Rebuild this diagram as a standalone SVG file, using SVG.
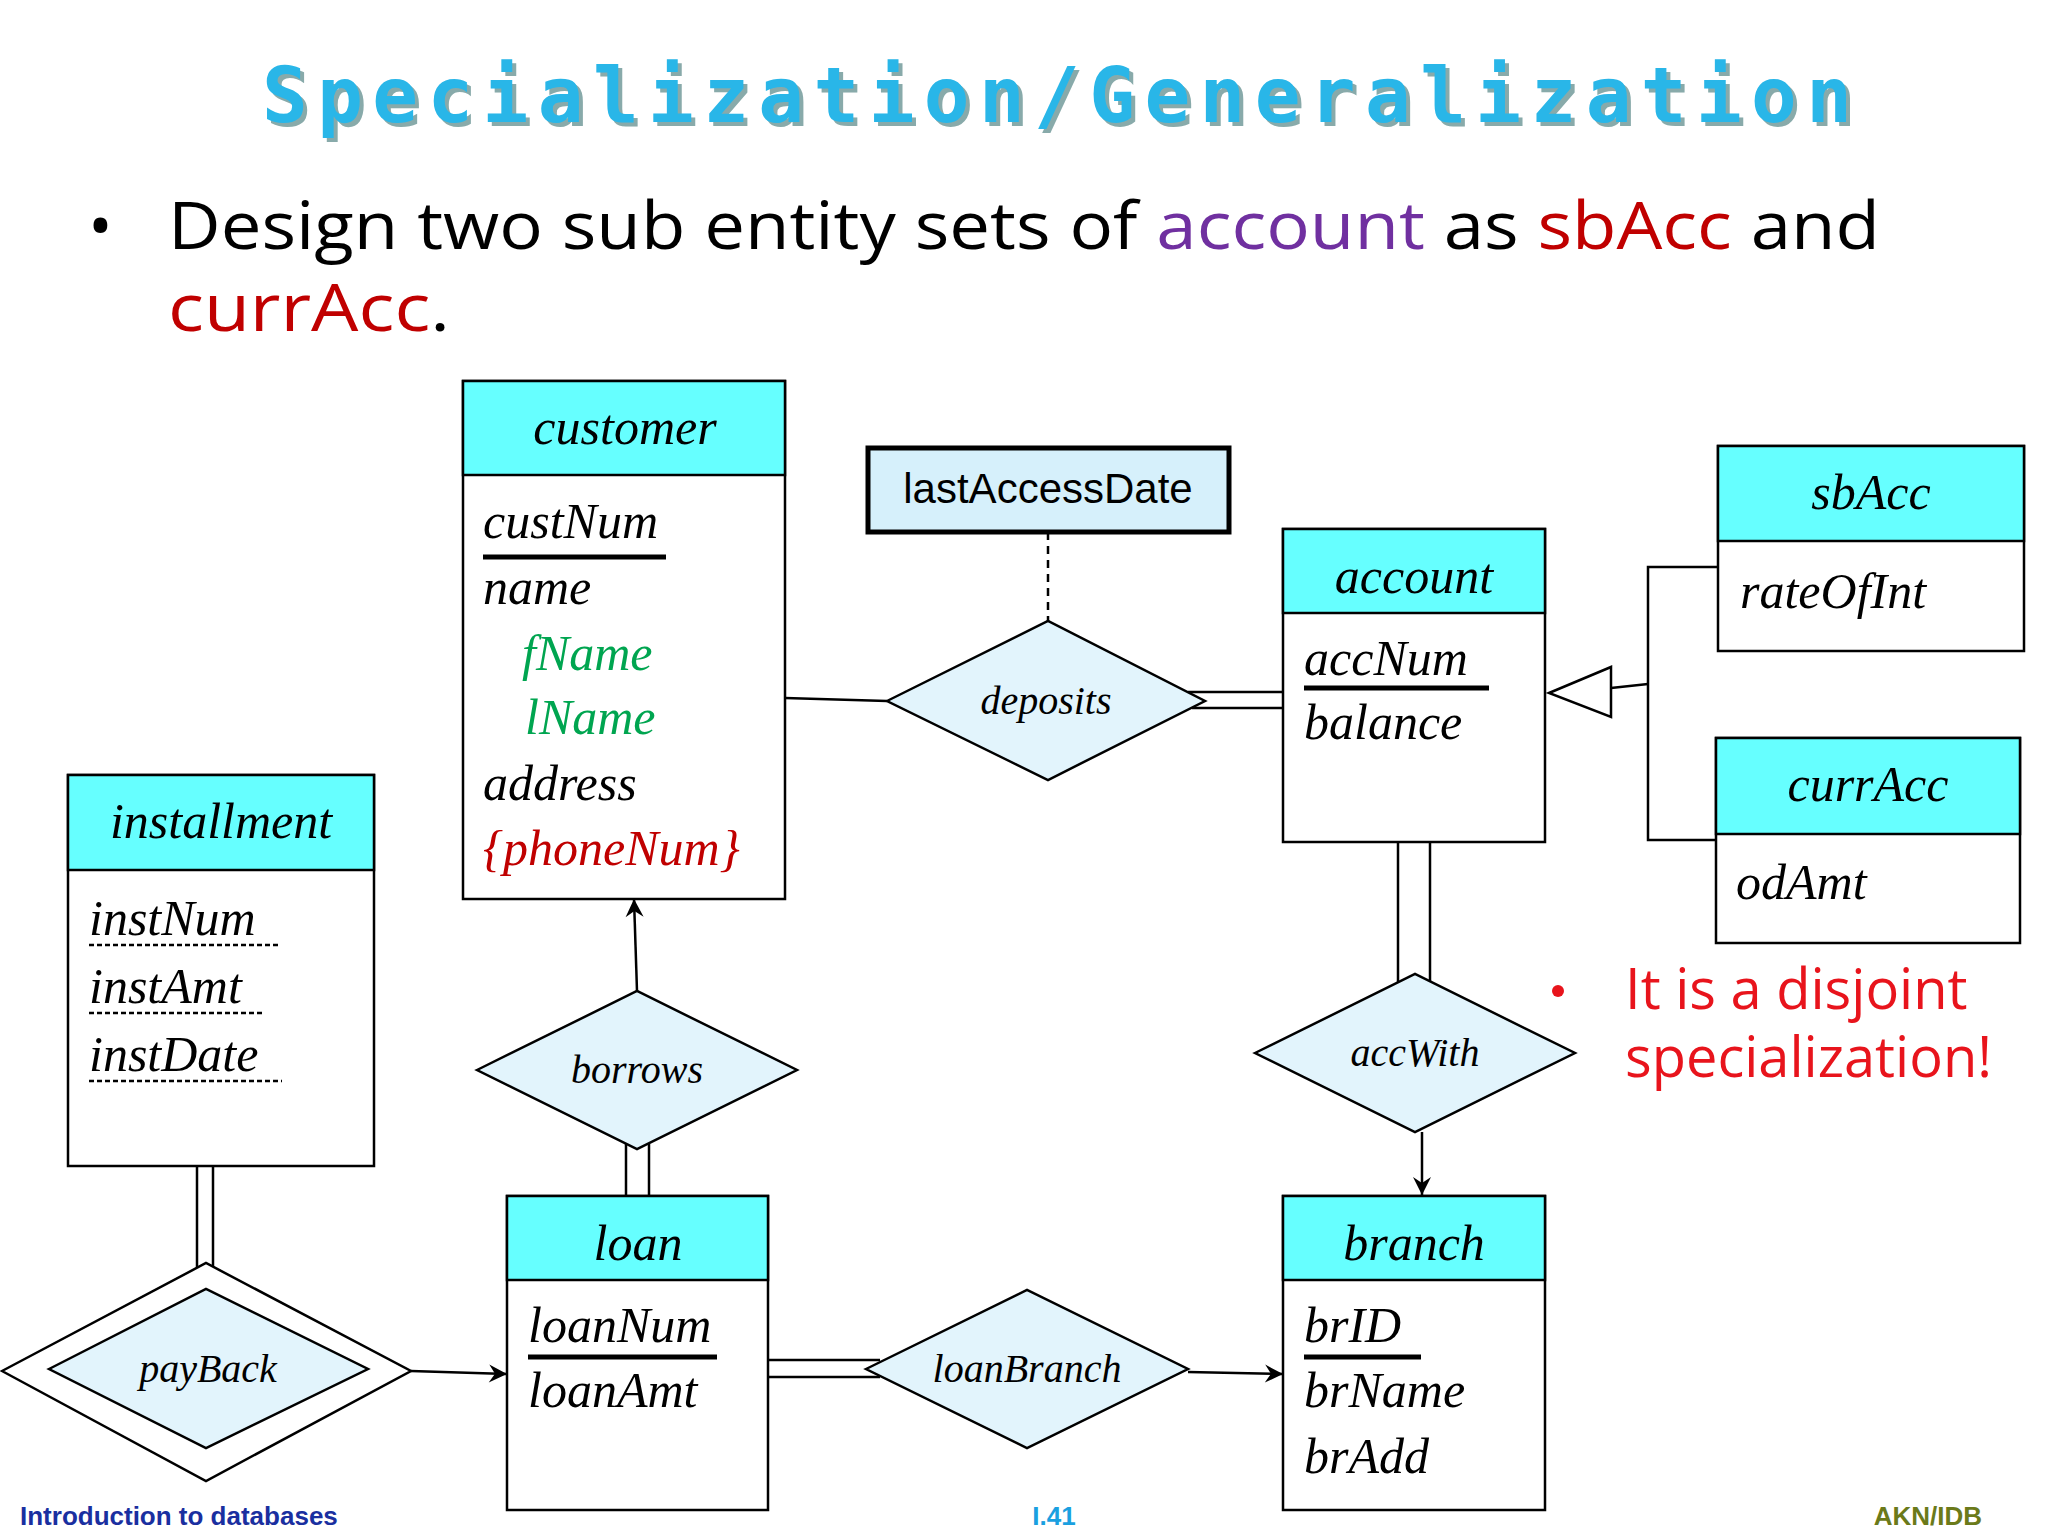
<svg xmlns="http://www.w3.org/2000/svg" width="2048" height="1536" viewBox="0 0 2048 1536">
<style>
.box{fill:#fff;stroke:#000;stroke-width:2.5}
.hdr{fill:#66ffff;stroke:#000;stroke-width:2.5}
.dia{fill:#e2f4fc;stroke:#000;stroke-width:2.5}
.t{font-family:"Liberation Serif",serif;font-style:italic;font-size:50px}
.dt{font-family:"Liberation Serif",serif;font-style:italic;font-size:40px}
.ln{stroke:#000;stroke-width:2.5;fill:none}
.big{font-family:"Open Sans","DejaVu Sans",sans-serif;font-size:66px}
.green{fill:#00a550}
.red{fill:#c00000}
</style>
<defs>
<marker id="ar" markerWidth="24" markerHeight="24" refX="20" refY="12" orient="auto" markerUnits="userSpaceOnUse">
<path d="M2,3 L20,12 L2,21 L8,12 Z" fill="#000"/>
</marker>
</defs>
<rect width="2048" height="1536" fill="#fff"/>
<text x="266" y="126" textLength="1590" lengthAdjust="spacing" font-family="DejaVu Sans Mono,monospace" font-weight="bold" font-size="76" fill="#8aa">Specialization/Generalization</text>
<text x="262" y="122" textLength="1590" lengthAdjust="spacing" font-family="DejaVu Sans Mono,monospace" font-weight="bold" font-size="76" fill="#29b6e8">Specialization/Generalization</text>
<text x="88" y="249" class="big">•</text>
<text x="168" y="249" class="big" textLength="1712" lengthAdjust="spacingAndGlyphs">Design two sub entity sets of <tspan fill="#7030a0">account</tspan> as <tspan fill="#c00000">sbAcc</tspan> and</text>
<text x="168" y="331" class="big" textLength="282" lengthAdjust="spacingAndGlyphs"><tspan fill="#c00000">currAcc</tspan>.</text>

<g id="connectors">
<line class="ln" x1="1048" y1="532" x2="1048" y2="621" stroke-dasharray="8,6"/>
<line class="ln" x1="785" y1="698" x2="887" y2="701"/>
<line class="ln" x1="1188" y1="692" x2="1283" y2="692"/>
<line class="ln" x1="1192" y1="708" x2="1283" y2="708"/>
<polygon points="1549,693 1611,667 1611,717" fill="#fff" stroke="#000" stroke-width="2.5"/>
<line class="ln" x1="1611" y1="688" x2="1648" y2="684"/>
<polyline class="ln" points="1718,567 1648,567 1648,840 1716,840"/>
<line class="ln" x1="1398" y1="842" x2="1398" y2="983"/>
<line class="ln" x1="1430" y1="842" x2="1430" y2="990"/>
<line class="ln" x1="1422" y1="1132" x2="1422" y2="1195" marker-end="url(#ar)"/>
<line class="ln" x1="768" y1="1360" x2="880" y2="1360"/>
<line class="ln" x1="768" y1="1377" x2="880" y2="1377"/>
<line class="ln" x1="1188" y1="1372" x2="1283" y2="1374" marker-end="url(#ar)"/>
<line class="ln" x1="637" y1="991" x2="634" y2="899" marker-end="url(#ar)"/>
<line class="ln" x1="626" y1="1144" x2="626" y2="1196"/>
<line class="ln" x1="649" y1="1144" x2="649" y2="1196"/>
<line class="ln" x1="197" y1="1166" x2="197" y2="1268"/>
<line class="ln" x1="213" y1="1166" x2="213" y2="1268"/>
<line class="ln" x1="411" y1="1371" x2="507" y2="1374" marker-end="url(#ar)"/>
</g>

<g id="customer">
<rect class="box" x="463" y="381" width="322" height="518"/>
<rect class="hdr" x="463" y="381" width="322" height="94"/>
<text class="t" x="625" y="444" text-anchor="middle">customer</text>
<text class="t" x="483" y="538">custNum</text>
<line x1="483" y1="557" x2="666" y2="557" stroke="#000" stroke-width="5"/>
<text class="t" x="483" y="604">name</text>
<text class="t green" x="522" y="670">fName</text>
<text class="t green" x="525" y="734">lName</text>
<text class="t" x="483" y="800">address</text>
<text class="t red" x="483" y="865">{phoneNum}</text>
</g>

<g id="lastAccessDate">
<rect x="868" y="448" width="361" height="84" fill="#d6f0fb" stroke="#000" stroke-width="5"/>
<text x="1048" y="503" text-anchor="middle" font-family="Liberation Sans,sans-serif" font-size="42">lastAccessDate</text>
</g>

<g id="deposits">
<polygon class="dia" points="887,701 1048,621 1205,701 1048,780"/>
<text class="dt" x="1046" y="714" text-anchor="middle">deposits</text>
</g>

<g id="account">
<rect class="box" x="1283" y="529" width="262" height="313"/>
<rect class="hdr" x="1283" y="529" width="262" height="84"/>
<text class="t" x="1414" y="593" text-anchor="middle">account</text>
<text class="t" x="1304" y="675">accNum</text>
<line x1="1304" y1="688" x2="1489" y2="688" stroke="#000" stroke-width="5"/>
<text class="t" x="1304" y="739">balance</text>
</g>

<g id="sbAcc">
<rect class="box" x="1718" y="446" width="306" height="205"/>
<rect class="hdr" x="1718" y="446" width="306" height="95"/>
<text class="t" x="1871" y="509" text-anchor="middle">sbAcc</text>
<text class="t" x="1740" y="608">rateOfInt</text>
</g>

<g id="currAcc">
<rect class="box" x="1716" y="738" width="304" height="205"/>
<rect class="hdr" x="1716" y="738" width="304" height="96"/>
<text class="t" x="1868" y="801" text-anchor="middle">currAcc</text>
<text class="t" x="1736" y="899">odAmt</text>
</g>

<g id="note" font-family="Open Sans,DejaVu Sans,sans-serif" fill="#e8141c">
<circle cx="1558" cy="991" r="6" fill="#e8141c"/>
<text x="1625" y="1009" font-size="56">It is a disjoint</text>
<text x="1625" y="1077" font-size="56">specialization!</text>
</g>

<g id="accWith">
<polygon class="dia" points="1255,1053 1415,974 1575,1053 1415,1132"/>
<text class="dt" x="1415" y="1066" text-anchor="middle">accWith</text>
</g>

<g id="branch">
<rect class="box" x="1283" y="1196" width="262" height="314"/>
<rect class="hdr" x="1283" y="1196" width="262" height="84"/>
<text class="t" x="1414" y="1260" text-anchor="middle">branch</text>
<text class="t" x="1304" y="1342">brID</text>
<line x1="1304" y1="1357" x2="1421" y2="1357" stroke="#000" stroke-width="5"/>
<text class="t" x="1304" y="1407">brName</text>
<text class="t" x="1304" y="1473">brAdd</text>
</g>

<g id="loan">
<rect class="box" x="507" y="1196" width="261" height="314"/>
<rect class="hdr" x="507" y="1196" width="261" height="84"/>
<text class="t" x="638" y="1260" text-anchor="middle">loan</text>
<text class="t" x="528" y="1342">loanNum</text>
<line x1="528" y1="1357" x2="717" y2="1357" stroke="#000" stroke-width="5"/>
<text class="t" x="528" y="1407">loanAmt</text>
</g>

<g id="loanBranch">
<polygon class="dia" points="866,1369 1027,1290 1188,1369 1027,1448"/>
<text class="dt" x="1027" y="1382" text-anchor="middle">loanBranch</text>
</g>

<g id="borrows">
<polygon class="dia" points="477,1070 637,991 797,1070 637,1149"/>
<text class="dt" x="637" y="1083" text-anchor="middle">borrows</text>
</g>

<g id="installment">
<rect class="box" x="68" y="775" width="306" height="391"/>
<rect class="hdr" x="68" y="775" width="306" height="95"/>
<text class="t" x="221" y="838" text-anchor="middle">installment</text>
<text class="t" x="89" y="935">instNum</text>
<line x1="89" y1="945" x2="278" y2="945" stroke="#000" stroke-width="2.5" stroke-dasharray="5,3"/>
<text class="t" x="89" y="1003">instAmt</text>
<line x1="89" y1="1013" x2="264" y2="1013" stroke="#000" stroke-width="2.5" stroke-dasharray="5,3"/>
<text class="t" x="89" y="1071">instDate</text>
<line x1="89" y1="1081" x2="282" y2="1081" stroke="#000" stroke-width="2.5" stroke-dasharray="5,3"/>
</g>

<g id="payBack">
<polygon points="2,1371 206,1263 411,1371 206,1481" fill="#fff" stroke="#000" stroke-width="2.5"/>
<polygon class="dia" points="49,1369 206,1289 368,1369 206,1448"/>
<text class="dt" x="208" y="1382" text-anchor="middle">payBack</text>
</g>

<g id="footer" font-family="Liberation Sans,sans-serif" font-weight="bold" font-size="26">
<text x="20" y="1525" fill="#1a2fa0">Introduction to databases</text>
<text x="1054" y="1525" text-anchor="middle" fill="#1aa0e0">I.41</text>
<text x="1982" y="1525" text-anchor="end" fill="#6b7a1a">AKN/IDB</text>
</g>
</svg>
